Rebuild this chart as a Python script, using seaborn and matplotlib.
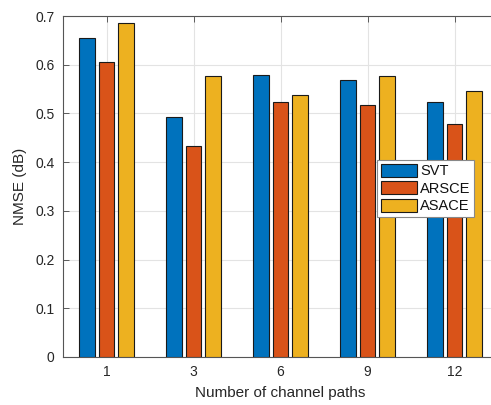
import numpy as np
import pandas as pd
import matplotlib
matplotlib.use("Agg")
import matplotlib.pyplot as plt
import seaborn as sns

# Number of channel paths on the x axis
paths = ["1", "3", "6", "9", "12"]
methods = ["SVT", "ARSCE", "ASACE"]

svt = [0.655, 0.493, 0.578, 0.568, 0.523]
arsce = [0.605, 0.434, 0.523, 0.517, 0.478]
asace = [0.686, 0.577, 0.538, 0.577, 0.547]

colors = ["#0072BD", "#D95319", "#EDB120"]

df = pd.DataFrame({
    "paths": paths * 3,
    "method": [m for m in methods for _ in paths],
    "nmse": svt + arsce + asace,
})

sns.set_theme(style="white")
plt.rcParams["font.family"] = ["Liberation Sans", "DejaVu Sans"]

text_col = "#262626"
fig = plt.figure(figsize=(4.91, 4.05), dpi=100)
ax = fig.add_axes([63 / 491, 1 - 357 / 405, 435 / 491, 341 / 405])

sns.barplot(data=df, x="paths", y="nmse", hue="method", order=paths,
            hue_order=methods, palette=colors, saturation=1, width=0.667,
            gap=0.2, edgecolor="#1a1a1a", linewidth=0.8, ax=ax, zorder=3)

ax.set_xlim(-0.5, 4.5)
ax.set_ylim(0, 0.7)
ax.set_yticks(np.arange(0, 0.71, 0.1))
ax.set_yticklabels(["0", "0.1", "0.2", "0.3", "0.4", "0.5", "0.6", "0.7"])
ax.grid(True, color="#e3e3e3", linewidth=0.8, zorder=0)
ax.set_axisbelow(True)

for s in ax.spines.values():
    s.set_color("#555555")
    s.set_linewidth(0.8)
ax.spines["right"].set_visible(False)

ax.tick_params(axis="both", direction="in", length=4, width=0.6, color="#444444",
               labelsize=10, labelcolor=text_col, top=True, right=False,
               left=True, bottom=True, pad=6)

ax.set_xlabel("Number of channel paths", fontsize=11, color=text_col, labelpad=5)
ax.set_ylabel("NMSE (dB)", fontsize=11, color=text_col, labelpad=6)

leg = ax.legend(loc="upper left", bbox_to_anchor=(377 / 491, 1 - 160 / 405),
                bbox_transform=fig.transFigure, fontsize=10.5, frameon=True,
                fancybox=False, edgecolor="#888888", framealpha=1,
                handlelength=2.5, handleheight=1.0, handletextpad=0.2,
                labelspacing=0.2, borderpad=0.25, borderaxespad=0)
leg.get_frame().set_linewidth(0.8)
for t in leg.get_texts():
    t.set_color("#111111")

fig.savefig("out.png", dpi=100)
